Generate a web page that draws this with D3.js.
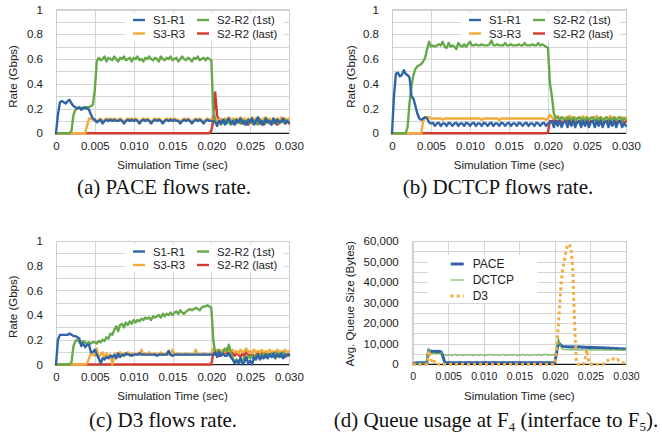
<!DOCTYPE html>
<html>
<head>
<meta charset="utf-8">
<title>Flow rates and queue usage</title>
<script src="https://cdn.jsdelivr.net/npm/d3@7"></script>
<style>
  html, body { margin: 0; background: #fff; }
  svg { display: block; }
  text { font-family: "Liberation Sans", Arial, Helvetica, sans-serif; fill: #222; }
  .caption { font-family: "Liberation Serif", "Times New Roman", serif; font-size: 21px; fill: #111; }
</style>
</head>
<body>
<div id="main"></div>
<script>
// traces are sampled every 0.25 ms, first sample at t = 0
const STEP = 0.00025;

const timeTicks = [0, 0.005, 0.010, 0.015, 0.020, 0.025, 0.030];
const timeTickLabels = ['0', '0.005', '0.010', '0.015', '0.020', '0.025', '0.030'];
const rateTicks = [0, 0.2, 0.4, 0.6, 0.8, 1];
const rateTickLabels = ['0', '0.2', '0.4', '0.6', '0.8', '1'];
const queueTicks = [0, 10000, 20000, 30000, 40000, 50000, 60000];
const queueTickLabels = ['0', '10,000', '20,000', '30,000', '40,000', '50,000', '60,000'];

// legend order (row by row)
const flowNames = ['S1-R1', 'S2-R2 (1st)', 'S3-R3', 'S2-R2 (last)'];
const flowColors = ['#2f65a7', '#67a84a', '#f3ab3c', '#d23a30'];
const queueNames = ['PACE', 'DCTCP', 'D3'];

// ---- (a) PACE, Gbps ----
const paceS1R1 = [
  0, 0.15, 0.25, 0.26, 0.25, 0.24, 0.26, 0.27, 0.24, 0.22,
  0.21, 0.2, 0.21, 0.19, 0.2, 0.21, 0.2, 0.19, 0.15, 0.12,
  0.11, 0.09, 0.1, 0.11, 0.08, 0.1, 0.11, 0.1, 0.11, 0.1,
  0.11, 0.1, 0.1, 0.11, 0.1, 0.08, 0.1, 0.11, 0.1, 0.11,
  0.1, 0.11, 0.1, 0.08, 0.1, 0.11, 0.1, 0.11, 0.1, 0.08,
  0.1, 0.11, 0.1, 0.11, 0.1, 0.08, 0.1, 0.11, 0.1, 0.11,
  0.1, 0.11, 0.1, 0.1, 0.08, 0.1, 0.11, 0.1, 0.11, 0.1,
  0.08, 0.1, 0.11, 0.1, 0.11, 0.1, 0.08, 0.1, 0.11, 0.1,
  0.1, 0.1, 0.09, 0.06, 0.1, 0.08, 0.11, 0.07, 0.1, 0.12,
  0.08, 0.1, 0.07, 0.11, 0.09, 0.12, 0.08, 0.1, 0.07, 0.11,
  0.09, 0.12, 0.07, 0.1, 0.13, 0.08, 0.1, 0.07, 0.12, 0.09,
  0.1, 0.07, 0.12, 0.08, 0.11, 0.09, 0.1, 0.12, 0.08, 0.1, 0.09
];
const paceS2R2first = [
  0, 0, 0, 0, 0, 0, 0, 0, 0.02, 0.15,
  0.19, 0.2, 0.21, 0.2, 0.21, 0.2, 0.21, 0.21, 0.22, 0.23,
  0.35, 0.58, 0.61, 0.59, 0.6, 0.62, 0.58, 0.61, 0.6, 0.59,
  0.62, 0.6, 0.58, 0.61, 0.6, 0.62, 0.59, 0.6, 0.61, 0.58,
  0.61, 0.6, 0.62, 0.59, 0.6, 0.58, 0.61, 0.6, 0.62, 0.6,
  0.59, 0.61, 0.6, 0.58, 0.62, 0.6, 0.59, 0.61, 0.6, 0.62,
  0.59, 0.6, 0.61, 0.58, 0.6, 0.62, 0.6, 0.59, 0.61, 0.6,
  0.58, 0.61, 0.6, 0.62, 0.59, 0.6, 0.61, 0.59, 0.61, 0.6,
  0.59, 0.2, 0.1, 0.08, 0.1, 0.07, 0.09, 0.11, 0.08, 0.1,
  0.07, 0.09, 0.11, 0.08, 0.1, 0.09, 0.11, 0.07, 0.1, 0.09,
  0.11, 0.08, 0.1, 0.09, 0.07, 0.11, 0.09, 0.1, 0.08, 0.11,
  0.09, 0.1, 0.08, 0.1, 0.11, 0.08, 0.1, 0.09, 0.11, 0.1, 0.09
];
const paceS3R3 = [
  0, 0, 0, 0, 0, 0, 0, 0, 0, 0,
  0, 0, 0, 0, 0, 0, 0.06, 0.12, 0.12, 0.11,
  0.11, 0.1, 0.11, 0.12, 0.09, 0.11, 0.12, 0.11, 0.12, 0.11,
  0.12, 0.11, 0.11, 0.12, 0.11, 0.09, 0.11, 0.12, 0.11, 0.12,
  0.11, 0.12, 0.11, 0.09, 0.11, 0.12, 0.11, 0.12, 0.11, 0.09,
  0.11, 0.12, 0.11, 0.12, 0.11, 0.09, 0.11, 0.12, 0.11, 0.12,
  0.11, 0.12, 0.11, 0.11, 0.09, 0.11, 0.12, 0.11, 0.12, 0.11,
  0.09, 0.11, 0.12, 0.11, 0.12, 0.11, 0.09, 0.11, 0.12, 0.11,
  0.11, 0.1, 0.12, 0.09, 0.11, 0.12, 0.1, 0.12, 0.11, 0.13,
  0.1, 0.12, 0.11, 0.12, 0.1, 0.13, 0.11, 0.12, 0.1, 0.12,
  0.11, 0.13, 0.1, 0.12, 0.11, 0.12, 0.1, 0.12, 0.13, 0.11,
  0.12, 0.1, 0.12, 0.11, 0.12, 0.1, 0.13, 0.11, 0.12, 0.11, 0.12
];
const paceS2R2last = [
  0, 0, 0, 0, 0, 0, 0, 0, 0, 0, 0, 0, 0, 0, 0, 0, 0, 0, 0, 0,
  0, 0, 0, 0, 0, 0, 0, 0, 0, 0, 0, 0, 0, 0, 0, 0, 0, 0, 0, 0,
  0, 0, 0, 0, 0, 0, 0, 0, 0, 0, 0, 0, 0, 0, 0, 0, 0, 0, 0, 0,
  0, 0, 0, 0, 0, 0, 0, 0, 0, 0, 0, 0, 0, 0, 0, 0, 0, 0, 0, 0,
  0.02, 0.1, 0.33, 0.14, 0.11, 0.09, 0.1, 0.08, 0.11, 0.09,
  0.1, 0.08, 0.1, 0.09, 0.11, 0.08, 0.1, 0.09, 0.1, 0.07,
  0.1, 0.09, 0.11, 0.08, 0.1, 0.09, 0.07, 0.1, 0.09, 0.11,
  0.08, 0.1, 0.09, 0.1, 0.07, 0.1, 0.09, 0.11, 0.08, 0.1, 0.08
];

// ---- (b) DCTCP, Gbps ----
const dctcpS1R1 = [
  0, 0.3, 0.48, 0.49, 0.46, 0.47, 0.51, 0.48, 0.47, 0.45,
  0.3, 0.28, 0.22, 0.16, 0.12, 0.11, 0.12, 0.13, 0.12, 0.09,
  0.08, 0.085, 0.06, 0.08, 0.085, 0.06, 0.08, 0.08, 0.06, 0.085,
  0.08, 0.06, 0.08, 0.085, 0.06, 0.08, 0.08, 0.06, 0.085, 0.08,
  0.06, 0.08, 0.085, 0.06, 0.08, 0.08, 0.06, 0.085, 0.08, 0.06,
  0.08, 0.085, 0.06, 0.08, 0.08, 0.06, 0.085, 0.08, 0.06, 0.08,
  0.085, 0.06, 0.08, 0.08, 0.06, 0.085, 0.08, 0.06, 0.08, 0.085,
  0.06, 0.08, 0.08, 0.06, 0.085, 0.08, 0.06, 0.08, 0.085, 0.06,
  0.08, 0.09, 0.1, 0.05, 0.1, 0.06, 0.1, 0.05, 0.09, 0.1,
  0.05, 0.1, 0.06, 0.1, 0.05, 0.09, 0.1, 0.05, 0.1, 0.06,
  0.1, 0.05, 0.09, 0.1, 0.05, 0.1, 0.06, 0.1, 0.05, 0.09,
  0.1, 0.05, 0.1, 0.06, 0.1, 0.05, 0.09, 0.1, 0.05, 0.08, 0.06
];
const dctcpS2R2first = [
  0, 0, 0, 0, 0, 0, 0, 0, 0.05, 0.25,
  0.38, 0.47, 0.52, 0.54, 0.55, 0.56, 0.58, 0.61, 0.68, 0.74,
  0.7, 0.71, 0.7, 0.71, 0.72, 0.71, 0.74, 0.7, 0.69, 0.73,
  0.7, 0.71, 0.7, 0.68, 0.73, 0.71, 0.7, 0.72, 0.7, 0.72,
  0.74, 0.71, 0.71, 0.72, 0.71, 0.71, 0.72, 0.71, 0.71, 0.71,
  0.72, 0.75, 0.71, 0.71, 0.72, 0.71, 0.71, 0.71, 0.73, 0.71,
  0.71, 0.72, 0.71, 0.71, 0.71, 0.72, 0.71, 0.71, 0.73, 0.71,
  0.71, 0.71, 0.72, 0.71, 0.71, 0.73, 0.71, 0.72, 0.71, 0.7,
  0.69, 0.4, 0.3, 0.16, 0.12, 0.13, 0.11, 0.13, 0.12, 0.1,
  0.13, 0.12, 0.11, 0.13, 0.1, 0.12, 0.13, 0.11, 0.12, 0.1,
  0.13, 0.11, 0.12, 0.13, 0.1, 0.12, 0.11, 0.13, 0.1, 0.12,
  0.13, 0.11, 0.12, 0.1, 0.13, 0.11, 0.12, 0.13, 0.1, 0.12, 0.11
];
const dctcpS3R3 = [
  0, 0, 0, 0, 0, 0, 0, 0, 0, 0,
  0, 0, 0, 0, 0, 0, 0.1, 0.13, 0.13, 0.13,
  0.12, 0.12, 0.12, 0.12, 0.12, 0.12, 0.11, 0.12, 0.12, 0.12,
  0.12, 0.12, 0.12, 0.12, 0.12, 0.12, 0.12, 0.12, 0.12, 0.12,
  0.12, 0.12, 0.12, 0.12, 0.12, 0.12, 0.11, 0.12, 0.12, 0.12,
  0.12, 0.12, 0.12, 0.12, 0.12, 0.105, 0.12, 0.12, 0.12, 0.12,
  0.12, 0.12, 0.12, 0.12, 0.12, 0.12, 0.12, 0.12, 0.12, 0.12,
  0.12, 0.12, 0.12, 0.12, 0.12, 0.12, 0.12, 0.12, 0.12, 0.11,
  0.12, 0.15, 0.13, 0.12, 0.13, 0.14, 0.12, 0.13, 0.11, 0.13,
  0.12, 0.14, 0.13, 0.12, 0.13, 0.11, 0.13, 0.12, 0.14, 0.12,
  0.13, 0.11, 0.13, 0.12, 0.13, 0.14, 0.12, 0.13, 0.12, 0.11,
  0.13, 0.12, 0.14, 0.12, 0.13, 0.11, 0.13, 0.12, 0.13, 0.12, 0.13
];
const dctcpS2R2last = [
  0, 0, 0, 0, 0, 0, 0, 0, 0, 0, 0, 0, 0, 0, 0, 0, 0, 0, 0, 0,
  0, 0, 0, 0, 0, 0, 0, 0, 0, 0, 0, 0, 0, 0, 0, 0, 0, 0, 0, 0,
  0, 0, 0, 0, 0, 0, 0, 0, 0, 0, 0, 0, 0, 0, 0, 0, 0, 0, 0, 0,
  0, 0, 0, 0, 0, 0, 0, 0, 0, 0, 0, 0, 0, 0, 0, 0, 0, 0, 0, 0,
  0.01, 0.1, 0.09, 0.11, 0.08, 0.1, 0.11, 0.08, 0.1, 0.09,
  0.11, 0.08, 0.1, 0.11, 0.08, 0.1, 0.09, 0.11, 0.08, 0.1,
  0.11, 0.08, 0.1, 0.09, 0.11, 0.08, 0.1, 0.11, 0.08, 0.1,
  0.09, 0.11, 0.08, 0.1, 0.11, 0.08, 0.1, 0.09, 0.11, 0.08, 0.1
];

// ---- (c) D3, Gbps ----
const d3S1R1 = [
  0, 0.2, 0.24, 0.24, 0.24, 0.24, 0.24, 0.25, 0.24, 0.23,
  0.23, 0.22, 0.21, 0.15, 0.17, 0.14, 0.16, 0.16, 0.1, 0.1,
  0.12, 0.08, 0.05, 0.01, 0.05, 0.04, 0.06, 0.05, 0.07, 0.06,
  0.08, 0.05, 0.09, 0.06, 0.08, 0.07, 0.09, 0.08, 0.08, 0.07,
  0.08, 0.08, 0.08, 0.09, 0.08, 0.08, 0.08, 0.08, 0.08, 0.08,
  0.08, 0.08, 0.07, 0.08, 0.08, 0.08, 0.08, 0.08, 0.11, 0.08,
  0.07, 0.08, 0.08, 0.08, 0.08, 0.08, 0.08, 0.08, 0.08, 0.08,
  0.08, 0.08, 0.08, 0.08, 0.08, 0.08, 0.08, 0.08, 0.08, 0.08,
  0.08, 0.08, 0.1, 0.06, 0.1, 0.07, 0.09, 0.07, 0.07, 0.09,
  0.06, 0.04, 0.01, 0.03, 0.01, 0.05, 0, 0.02, 0.06, 0.01,
  0.03, 0, 0.06, 0.04, 0.08, 0.04, 0.07, 0.05, 0.08, 0.05,
  0.08, 0.06, 0.09, 0.05, 0.08, 0.06, 0.09, 0.05, 0.08, 0.07, 0.08
];
const d3S2R2first = [
  0, 0, 0, 0, 0, 0, 0, 0, 0.02, 0.15,
  0.19, 0.2, 0.18, 0.17, 0.19, 0.18, 0.17, 0.18, 0.17, 0.18,
  0.18, 0.17, 0.19, 0.18, 0.2, 0.19, 0.22, 0.21, 0.25, 0.24,
  0.28, 0.31, 0.27, 0.32, 0.33, 0.3, 0.34, 0.32, 0.35, 0.33,
  0.36, 0.34, 0.36, 0.35, 0.37, 0.36, 0.38, 0.37, 0.38, 0.36,
  0.39, 0.38, 0.39, 0.4, 0.38, 0.41, 0.39, 0.41, 0.4, 0.42,
  0.4, 0.42, 0.43, 0.41, 0.44, 0.42, 0.41, 0.43, 0.44, 0.45,
  0.44, 0.45, 0.46, 0.45, 0.44, 0.46, 0.47, 0.47, 0.48, 0.47,
  0.46, 0.2, 0.09, 0.1, 0.12, 0.08, 0.1, 0.13, 0.11, 0.16,
  0.1, 0.05, 0.02, 0.04, 0.02, 0.05, 0.03, 0.06, 0.04, 0.07,
  0.05, 0.07, 0.04, 0.08, 0.06, 0.08, 0.05, 0.09, 0.06, 0.08,
  0.07, 0.09, 0.06, 0.1, 0.07, 0.09, 0.06, 0.1, 0.07, 0.08, 0.07
];
const d3S3R3 = [
  0, 0, 0, 0, 0, 0, 0, 0, 0, 0,
  0, 0, 0, 0, 0, 0, 0.01, 0.05, 0.09, 0.08,
  0.07, 0.13, 0.06, 0.08, 0.1, 0.05, 0.09, 0.07, 0.08, 0,
  0.07, 0.09, 0.06, 0.1, 0.07, 0.09, 0.08, 0.1, 0.07, 0.09,
  0.08, 0.09, 0.08, 0.08, 0.12, 0.08, 0.09, 0.08, 0.1, 0.08,
  0.08, 0.09, 0.08, 0.08, 0.1, 0.08, 0.08, 0.09, 0.08, 0.08,
  0.12, 0.08, 0.08, 0.09, 0.08, 0.08, 0.08, 0.09, 0.08, 0.08,
  0.08, 0.08, 0.12, 0.08, 0.08, 0.08, 0.09, 0.08, 0.08, 0.08,
  0.09, 0.13, 0.1, 0.12, 0.09, 0.11, 0.12, 0.1, 0.13, 0.11,
  0.1, 0.12, 0.1, 0.11, 0.09, 0.12, 0.1, 0.11, 0.13, 0.1,
  0.11, 0.09, 0.12, 0.1, 0.11, 0.1, 0.12, 0.09, 0.11, 0.1,
  0.12, 0.1, 0.11, 0.09, 0.12, 0.1, 0.11, 0.1, 0.12, 0.1, 0.11
];
const d3S2R2last = [
  0, 0, 0, 0, 0, 0, 0, 0, 0, 0, 0, 0, 0, 0, 0, 0, 0, 0, 0, 0,
  0, 0, 0, 0, 0, 0, 0, 0, 0, 0, 0, 0, 0, 0, 0, 0, 0, 0, 0, 0,
  0, 0, 0, 0, 0, 0, 0, 0, 0, 0, 0, 0, 0, 0, 0, 0, 0, 0, 0, 0,
  0, 0, 0, 0, 0, 0, 0, 0, 0, 0, 0, 0, 0, 0, 0, 0, 0, 0, 0, 0,
  0, 0.09, 0.08, 0.1, 0.07, 0.09, 0.08, 0.1, 0.09, 0.12,
  0.08, 0.1, 0.07, 0.09, 0.08, 0.06, 0.09, 0.07, 0.1, 0.08,
  0.07, 0.09, 0.06, 0.08, 0.1, 0.07, 0.09, 0.06, 0.08, 0.09,
  0.07, 0.1, 0.08, 0.06, 0.09, 0.07, 0.1, 0.08, 0.06, 0.09, 0.08
];

// ---- (d) avg queue size at F4, bytes ----
const queuePace = [
  0, 500, 700, 800, 800, 800, 800, 800, 900, 7000,
  6200, 6300, 6200, 6300, 6200, 6300, 6000, 4000, 900, 800,
  800, 850, 800, 800, 750, 800, 850, 800, 800, 750,
  800, 850, 800, 800, 750, 800, 850, 800, 800, 750,
  800, 850, 800, 800, 750, 800, 850, 800, 800, 750,
  800, 850, 800, 800, 750, 800, 850, 800, 800, 750,
  800, 850, 800, 800, 750, 800, 850, 800, 800, 750,
  800, 850, 800, 800, 750, 800, 850, 800, 800, 750,
  900, 6000, 10800, 9500, 8800, 8600, 8500, 8600, 8400, 8500,
  8400, 8500, 8300, 8400, 8500, 8300, 8400, 8300, 8200, 8300,
  8200, 8300, 8100, 8200, 8000, 8100, 8000, 7900, 8000, 7800,
  7900, 7800, 7700, 7800, 7600, 7700, 7600, 7500, 7600, 7500, 7400
];
const queueDctcp = [
  0, 300, 300, 300, 300, 300, 300, 300, 400, 7800,
  5500, 5200, 5500, 5100, 5400, 5200, 5500, 5300, 4800, 4400,
  4300, 4800, 4200, 4600, 4900, 4300, 4500, 4700, 4200, 4600,
  4400, 4800, 4300, 4600, 4200, 4700, 4500, 4300, 4800, 4400,
  4600, 4200, 4700, 4500, 4900, 4300, 4600, 4400, 4700, 4300,
  4500, 4800, 4200, 4600, 4400, 4700, 4300, 4800, 4500, 4200,
  4600, 4400, 4900, 4300, 4700, 4500, 4200, 4800, 4400, 4600,
  4300, 4900, 4200, 4700, 4500, 5000, 4300, 4600, 4400, 4700,
  4600, 9000, 13000, 9000, 7500, 7200, 7100, 7200, 7000, 7100,
  7000, 7100, 7000, 6900, 7000, 7100, 7000, 6900, 7000, 7100,
  7000, 6900, 7000, 7000, 6900, 7000, 7100, 7000, 6900, 7000,
  7000, 6900, 7000, 7100, 7000, 6900, 7000, 7000, 6900, 7000, 7000
];
const queueD3 = [
  0, 0, 0, 0, 0, 0, 0, 0, 0, 6500,
  3000, 500, 1500, 0, 0, 0, 0, 0, 0, 0,
  0, 0, 0, 0, 0, 0, 0, 0, 0, 0, 0, 0, 0, 0, 0, 0, 0, 0, 0, 0,
  0, 0, 0, 0, 0, 0, 0, 0, 0, 0, 0, 0, 0, 0, 0, 0, 0, 0, 0, 0,
  0, 0, 0, 0, 0, 0, 0, 0, 0, 0, 0, 0, 0, 0, 0, 0, 0, 0, 0, 0,
  0, 8000, 20000, 33000, 44000, 49000, 54000, 57500, 58500, 57000,
  47000, 22000, 2000, 0, 0, 500, 0, 3000, 7000, 1500,
  0, 0, 0, 0, 0, 0, 0, 0, 800, 1500,
  2000, 2800, 3000, 2500, 2000, 2500, 1800, 1200, 900, 600, 500
];

const svg = d3.select('#main')
    .append('svg')
    .attr('width', 662)
    .attr('height', 440);

const panels = [
    { left: 56, top: 9.5, width: 233, height: 123.8, yMax: 1, yTicks: rateTicks, yLabels: rateTickLabels,
      gridCount: 10, yTitle: 'Rate (Gbps)', titleDx: -43, titleDy: 5, pad: 13,
      flows: [paceS1R1, paceS2R2first, paceS3R3, paceS2R2last] },
    { left: 392, top: 9.5, width: 234, height: 123.8, yMax: 1, yTicks: rateTicks, yLabels: rateTickLabels,
      gridCount: 10, yTitle: 'Rate (Gbps)', titleDx: -41, titleDy: 5, pad: 13,
      flows: [dctcpS1R1, dctcpS2R2first, dctcpS3R3, dctcpS2R2last] },
    { left: 56, top: 241, width: 233, height: 123.5, yMax: 1, yTicks: rateTicks, yLabels: rateTickLabels,
      gridCount: 10, yTitle: 'Rate (Gbps)', titleDx: -43, titleDy: 4, pad: 13,
      flows: [d3S1R1, d3S2R2first, d3S3R3, d3S2R2last] },
    { left: 412.7, top: 241, width: 213.3, height: 123.3, yMax: 60000, yTicks: queueTicks, yLabels: queueTickLabels,
      gridCount: 12, yTitle: 'Avg. Queue Size (Bytes)', titleDx: -63, titleDy: 1, pad: 14, xTickSize: 10.5,
      queues: [queuePace, queueDctcp, queueD3] }
];

panels.forEach(drawPanel);

function drawPanel(p) {
    const bottom = p.top + p.height;
    const x = d3.scaleLinear().domain([0, 0.03]).range([p.left, p.left + p.width]);
    const y = d3.scaleLinear().domain([0, p.yMax]).range([bottom, p.top]);
    const g = svg.append('g');

    // grid
    g.append('g')
        .attr('transform', 'translate(' + p.left + ',0)')
        .call(d3.axisLeft(y).tickValues(y.ticks(p.gridCount)).tickSize(-p.width).tickFormat(''))
        .call(a => a.select('.domain').remove())
        .call(a => a.selectAll('line').attr('stroke', '#d5d5d5').attr('shape-rendering', 'crispEdges'));
    g.append('g')
        .attr('transform', 'translate(0,' + bottom + ')')
        .call(d3.axisBottom(x).tickValues(timeTicks).tickSize(-p.height).tickFormat(''))
        .call(a => a.select('.domain').remove())
        .call(a => a.selectAll('line').attr('stroke', '#d5d5d5').attr('shape-rendering', 'crispEdges'));
    g.append('rect')
        .attr('x', p.left).attr('y', p.top)
        .attr('width', p.width).attr('height', p.height)
        .attr('fill', 'none').attr('stroke', '#cdcdcd')
        .attr('shape-rendering', 'crispEdges');

    // legend backgrounds sit over the grid
    if (p.flows) {
        g.append('rect').attr('x', p.left + 69).attr('y', p.top + 3.5)
            .attr('width', 159).attr('height', 27.5).attr('fill', '#fff');
    } else {
        g.append('rect').attr('x', p.left + 15).attr('y', p.top + 14)
            .attr('width', 110).attr('height', 48).attr('fill', '#fff');
    }

    // zero line
    g.append('line')
        .attr('x1', x(0)).attr('x2', x(0.03))
        .attr('y1', y(0)).attr('y2', y(0))
        .attr('stroke', '#1a1a1a').attr('stroke-width', 1.2);

    const line = d3.line()
        .x((d, i) => x(i * STEP))
        .y(d => y(d));

    if (p.flows) {
        // last legend entry is drawn first, S1-R1 ends up on top
        d3.range(p.flows.length).reverse().forEach(k => {
            g.append('path')
                .datum(p.flows[k])
                .attr('d', line)
                .attr('fill', 'none')
                .attr('stroke', flowColors[k])
                .attr('stroke-width', 2.4)
                .attr('stroke-linejoin', 'round')
                .attr('stroke-linecap', 'round');
        });
        flowNames.forEach((name, k) => {
            const col = k % 2, row = Math.floor(k / 2);
            const ly = p.top + 10.5 + row * 13.5;
            const lx = p.left + 77 + col * 64;
            g.append('line')
                .attr('x1', lx).attr('x2', lx + 12)
                .attr('y1', ly).attr('y2', ly)
                .attr('stroke', flowColors[k]).attr('stroke-width', 2.4);
            g.append('text')
                .attr('x', lx + 20).attr('y', ly)
                .attr('dominant-baseline', 'central')
                .attr('font-size', 11.3)
                .text(name);
        });
    } else {
        const styles = [
            { color: '#2f65a7', width: 3 },
            { color: '#74b255', width: 1.1 },
            { color: '#f5ad42', width: 3, dash: '3,3' }
        ];
        p.queues.forEach((values, k) => {
            g.append('path')
                .datum(values)
                .attr('d', line)
                .attr('fill', 'none')
                .attr('stroke', styles[k].color)
                .attr('stroke-width', styles[k].width)
                .attr('stroke-dasharray', styles[k].dash || null)
                .attr('stroke-linejoin', 'round');
        });
        queueNames.forEach((name, k) => {
            const ly = p.top + 23 + k * 16;
            g.append('line')
                .attr('x1', p.left + 38).attr('x2', p.left + 51)
                .attr('y1', ly).attr('y2', ly)
                .attr('stroke', styles[k].color)
                .attr('stroke-width', styles[k].width)
                .attr('stroke-dasharray', styles[k].dash || null);
            g.append('text')
                .attr('x', p.left + 60).attr('y', ly)
                .attr('dominant-baseline', 'central')
                .attr('font-size', 12)
                .text(name);
        });
    }

    // tick labels
    g.append('g')
        .attr('transform', 'translate(0,' + bottom + ')')
        .call(d3.axisBottom(x).tickValues(timeTicks)
            .tickFormat((d, i) => timeTickLabels[i]).tickSize(0).tickPadding(8.3))
        .call(a => a.select('.domain').remove())
        .attr('font-family', null)
        .attr('font-size', p.xTickSize || 11.5);
    g.append('g')
        .attr('transform', 'translate(' + p.left + ',0)')
        .call(d3.axisLeft(y).tickValues(p.yTicks)
            .tickFormat((d, i) => p.yLabels[i]).tickSize(0).tickPadding(p.pad))
        .call(a => a.select('.domain').remove())
        .attr('font-family', null)
        .attr('font-size', 11.5);

    // axis titles
    g.append('text')
        .attr('x', p.left + p.width / 2).attr('y', bottom + 31.5)
        .attr('text-anchor', 'middle')
        .attr('dominant-baseline', 'central')
        .attr('font-size', 11.5)
        .text('Simulation Time (sec)');
    g.append('text')
        .attr('transform', 'translate(' + (p.left + p.titleDx) + ',' + (p.top + p.height / 2 + p.titleDy) + ') rotate(-90)')
        .attr('text-anchor', 'middle')
        .attr('dominant-baseline', 'central')
        .attr('font-size', 11.5)
        .text(p.yTitle);
}

// sub-figure captions
svg.append('text').attr('class', 'caption').attr('x', 164).attr('y', 194)
    .attr('text-anchor', 'middle').text('(a) PACE flows rate.');
svg.append('text').attr('class', 'caption').attr('x', 498).attr('y', 194)
    .attr('text-anchor', 'middle').text('(b) DCTCP flows rate.');
svg.append('text').attr('class', 'caption').attr('x', 163).attr('y', 426.5)
    .attr('text-anchor', 'middle').text('(c) D3 flows rate.');

const capD = svg.append('text').attr('class', 'caption').attr('x', 496).attr('y', 426.5)
    .attr('text-anchor', 'middle');
capD.append('tspan').text('(d) Queue usage at F');
capD.append('tspan').attr('font-size', 13).attr('dy', 4).text('4');
capD.append('tspan').attr('dy', -4).text(' (interface to F');
capD.append('tspan').attr('font-size', 13).attr('dy', 4).text('5');
capD.append('tspan').attr('dy', -4).text(').');
</script>
</body>
</html>
